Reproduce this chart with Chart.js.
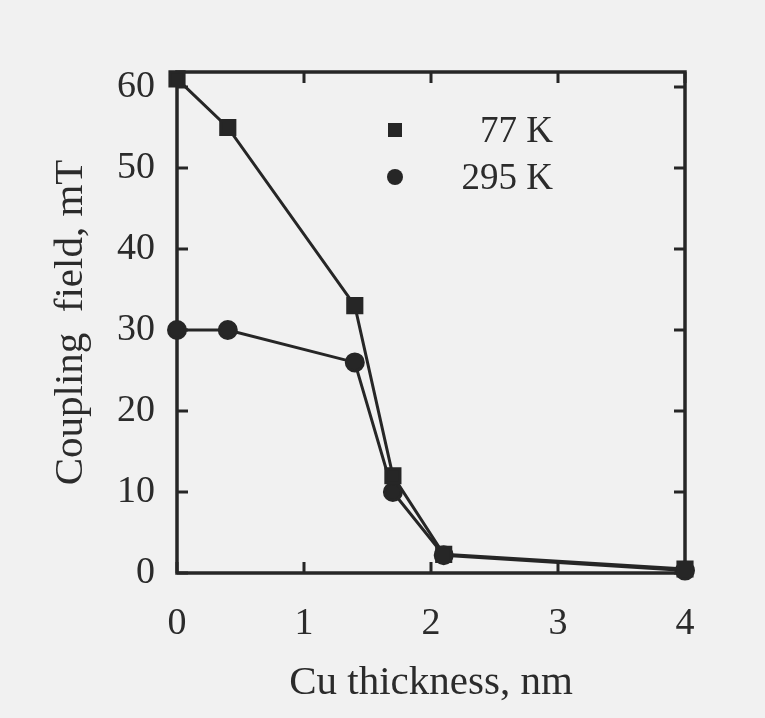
<!DOCTYPE html>
<html>
<head>
<meta charset="utf-8">
<script src="https://cdn.jsdelivr.net/npm/chart.js@4"></script>
<style>
  html, body { margin: 0; padding: 0; background: #f1f1f1; }
  #wrap { width: 765px; height: 718px; }
</style>
</head>
<body>
<div id="wrap"><canvas id="grafico"></canvas></div>
<script>
'use strict';

// Cu thickness (nm)
const espessura = [0, 0.4, 1.4, 1.7, 2.1, 4];
// coupling field (mT)
const campo77K = [61, 55, 33, 12, 2.3, 0.5];
const campo295K = [30, 30, 26, 10, 2.2, 0.3];
const ticksX = [0, 1, 2, 3, 4];
const ticksY = [0, 10, 20, 30, 40, 50, 60];
const legendas = ['77 K', '295 K'];

const cor = '#262626';
const corTexto = '#2b2b2b';
const fonte = '"Liberation Serif", "DejaVu Serif", serif';

function pontos(xs, ys) {
    return xs.map((x, i) => ({ x: x, y: ys[i] }));
}

// moldura + ticks para dentro nos quatro lados
const moldura = {
    id: 'moldura',
    beforeDatasetsDraw(chart) {
        const ctx = chart.ctx;
        const a = chart.chartArea;
        const sx = chart.scales.x;
        const sy = chart.scales.y;
        ctx.save();
        ctx.strokeStyle = cor;
        ctx.lineWidth = 3.5;
        ctx.strokeRect(a.left, a.top, a.right - a.left, a.bottom - a.top);
        const t = 11;
        ctx.lineWidth = 3;
        ctx.beginPath();
        ticksX.forEach(v => {
            const px = sx.getPixelForValue(v);
            ctx.moveTo(px, a.bottom); ctx.lineTo(px, a.bottom - t);
            ctx.moveTo(px, a.top); ctx.lineTo(px, a.top + t);
        });
        ticksY.forEach(v => {
            const py = sy.getPixelForValue(v);
            ctx.moveTo(a.left, py); ctx.lineTo(a.left + t, py);
            ctx.moveTo(a.right, py); ctx.lineTo(a.right - t, py);
        });
        ctx.stroke();
        ctx.restore();
    }
};

// legenda dentro do grafico
const legenda = {
    id: 'legenda',
    afterDraw(chart) {
        const ctx = chart.ctx;
        const a = chart.chartArea;
        const x0 = a.left + 218;
        const y0 = a.top + 58;
        ctx.save();
        ctx.fillStyle = cor;
        ctx.fillRect(x0 - 7, y0 - 7, 14, 14);
        ctx.beginPath();
        ctx.arc(x0, y0 + 47, 8, 0, Math.PI * 2);
        ctx.fill();
        ctx.fillStyle = corTexto;
        ctx.font = '37px ' + fonte;
        ctx.textBaseline = 'middle';
        ctx.textAlign = 'right';
        ctx.fillText(legendas[0], x0 + 158, y0 + 2);
        ctx.fillText(legendas[1], x0 + 158, y0 + 49);
        ctx.restore();
    }
};

const graficoCampo = new Chart(document.getElementById('grafico'), {
    type: 'scatter',
    data: {
        datasets: [{
            label: legendas[0],
            data: pontos(espessura, campo77K),
            showLine: true,
            clip: false,
            borderColor: cor,
            backgroundColor: cor,
            borderWidth: 3,
            pointStyle: 'rect',
            pointRadius: 10,
            pointHoverRadius: 10
        }, {
            label: legendas[1],
            data: pontos(espessura, campo295K),
            showLine: true,
            clip: false,
            borderColor: cor,
            backgroundColor: cor,
            borderWidth: 3,
            pointStyle: 'circle',
            pointRadius: 8.5,
            pointHoverRadius: 8.5
        }]
    },
    options: {
        responsive: true,
        maintainAspectRatio: false,
        animation: false,
        layout: { padding: { left: 0, right: 80, top: 72, bottom: 10 } },
        plugins: { legend: { display: false }, tooltip: { enabled: false } },
        scales: {
            x: {
                type: 'linear',
                min: 0,
                max: 4,
                afterBuildTicks: s => { s.ticks = ticksX.map(v => ({ value: v })); },
                afterFit: s => { s.height = 135; },
                grid: { display: false, drawTicks: false },
                border: { display: false },
                ticks: { color: corTexto, padding: 28, font: { family: fonte, size: 38 } },
                title: {
                    display: true,
                    text: 'Cu thickness, nm',
                    color: corTexto,
                    padding: { top: 4, bottom: 0 },
                    font: { family: fonte, size: 41 }
                }
            },
            y: {
                type: 'linear',
                min: 0,
                max: 61.85,
                afterBuildTicks: s => { s.ticks = ticksY.map(v => ({ value: v })); },
                afterFit: s => { s.width = 177; },
                grid: { display: false, drawTicks: false },
                border: { display: false },
                ticks: { color: corTexto, padding: 22, font: { family: fonte, size: 38 } },
                title: {
                    display: true,
                    text: 'Coupling  field, mT',
                    color: corTexto,
                    padding: { top: 47, bottom: 0 },
                    font: { family: fonte, size: 41 }
                }
            }
        }
    },
    plugins: [moldura, legenda]
});
</script>
</body>
</html>
